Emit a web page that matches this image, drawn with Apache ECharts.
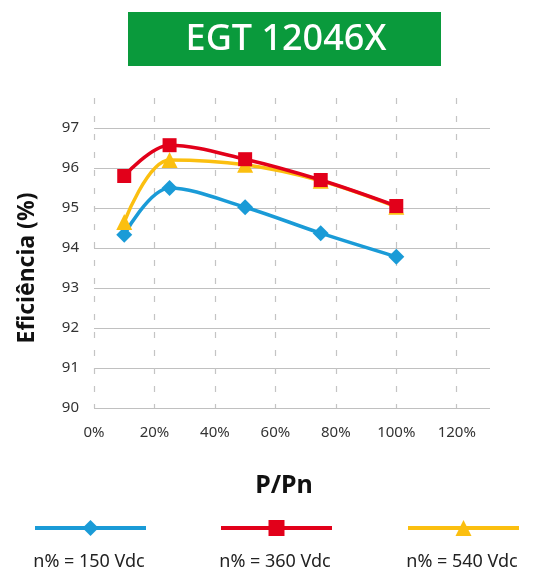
<!DOCTYPE html>
<html>
<head>
<meta charset="utf-8">
<script src="https://cdn.jsdelivr.net/npm/echarts@6/dist/echarts.min.js"></script>
<style>
  html, body { margin: 0; padding: 0; background: #fff; }
  #chart { width: 539px; height: 576px; }
</style>
</head>
<body>
<div id="chart"></div>
<script>
const loadPct = [10, 25, 50, 75, 100]
const eff150 = [94.33, 95.5, 95.02, 94.37, 93.78]
const eff360 = [95.8, 96.57, 96.22, 95.7, 95.05]
const eff540 = [94.65, 96.2, 96.08, 95.68, 95.03]
const seriesNames = ['n% = 150 Vdc', 'n% = 360 Vdc', 'n% = 540 Vdc']
const xTicks = [0, 20, 40, 60, 80, 100, 120]
const yTicks = [90, 91, 92, 93, 94, 95, 96, 97]

const FONT = 'Noto Sans'
const colors = ['#1a9bd7', '#e2001a', '#fbbf10']
const symbols = ['diamond', 'rect', 'triangle']
const symbolSizes = [16, 14, 16]

const pairs = (ys) => loadPct.map((x, i) => [x, ys[i]])

const chart = echarts.init(document.getElementById('chart'))

const mkSeries = (idx, ys, z) => ({
  name: seriesNames[idx],
  type: 'line',
  data: pairs(ys),
  smooth: 0.35,
  symbol: symbols[idx],
  symbolSize: symbolSizes[idx],
  showAllSymbol: true,
  z: z,
  lineStyle: { color: colors[idx], width: 3.5 },
  itemStyle: { color: colors[idx] }
})

const legendLefts = [33, 219, 406]
const legends = seriesNames.map((name, i) => ({
  data: [name],
  left: legendLefts[i],
  top: 518,
  padding: 0,
  itemWidth: 111,
  itemHeight: 20,
  selectedMode: false,
  formatter: () => '',
  lineStyle: { width: 4 },
  textStyle: { fontSize: 1 }
}))

const legendLabels = seriesNames.map((name, i) => ({
  type: 'text',
  x: legendLefts[i] + 56,
  y: 562,
  style: {
    text: name,
    fill: '#222',
    font: '18px "' + FONT + '"',
    textAlign: 'center',
    textVerticalAlign: 'middle'
  }
}))

const option = {
  animation: false,
  textStyle: { fontFamily: FONT },
  grid: { left: 94, right: 49, top: 98, bottom: 168 },
  xAxis: {
    type: 'value',
    min: xTicks[0],
    max: 131,
    interval: 20,
    axisLine: { show: false },
    axisTick: { show: false },
    axisLabel: {
      color: '#333',
      fontSize: 15,
      margin: 17,
      showMaxLabel: false,
      formatter: (v) => xTicks.includes(v) ? v + '%' : ''
    },
    splitLine: {
      show: true,
      showMaxLine: false,
      lineStyle: { color: '#c4c4c4', type: [6, 12], width: 1.2 }
    }
  },
  yAxis: {
    type: 'value',
    min: yTicks[0],
    max: 97.75,
    interval: 1,
    axisLine: { show: false },
    axisTick: { show: false },
    axisLabel: {
      color: '#333',
      fontSize: 15,
      margin: 15,
      showMaxLabel: false,
      formatter: (v) => yTicks.includes(v) ? String(v) : ''
    },
    splitLine: {
      show: true,
      showMaxLine: false,
      lineStyle: { color: '#c0c0c0', width: 1.2 }
    }
  },
  legend: legends,
  graphic: [
    {
      type: 'rect',
      shape: { x: 128, y: 12, width: 313, height: 54 },
      style: { fill: '#0a9a3c' }
    },
    {
      type: 'text',
      x: 286,
      y: 40,
      style: {
        text: 'EGT 12046X',
        fill: '#fff',
        font: '500 36px "' + FONT + '"',
        textAlign: 'center',
        textVerticalAlign: 'middle'
      }
    },
    {
      type: 'text',
      x: 27,
      y: 268,
      rotation: Math.PI / 2,
      style: {
        text: 'Eficiência (%)',
        fill: '#111',
        font: 'bold 23px "' + FONT + '"',
        textAlign: 'center',
        textVerticalAlign: 'middle'
      }
    },
    {
      type: 'text',
      x: 284,
      y: 486,
      style: {
        text: 'P/Pn',
        fill: '#111',
        font: 'bold 25px "' + FONT + '"',
        textAlign: 'center',
        textVerticalAlign: 'middle'
      }
    },
    ...legendLabels
  ],
  series: [
    mkSeries(0, eff150, 2),
    mkSeries(2, eff540, 3),
    mkSeries(1, eff360, 4)
  ]
}

chart.setOption(option)
</script>
</body>
</html>
